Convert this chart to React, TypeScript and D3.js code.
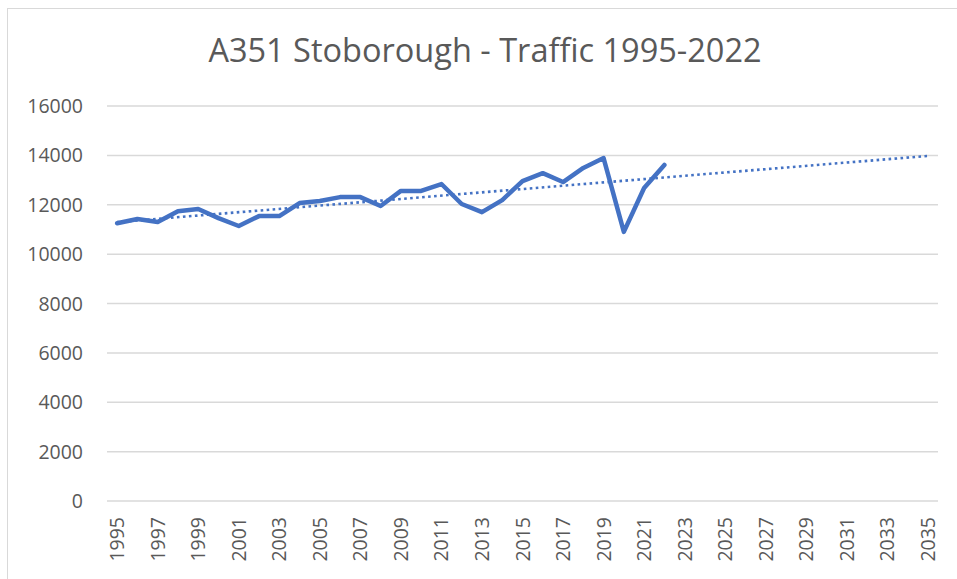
import React from "react";
import * as d3 from "d3";

const width = 957;
const height = 579;

// observed traffic counts
const years = [
  1995, 1996, 1997, 1998, 1999, 2000, 2001, 2002, 2003, 2004, 2005, 2006, 2007, 2008,
  2009, 2010, 2011, 2012, 2013, 2014, 2015, 2016, 2017, 2018, 2019, 2020, 2021, 2022,
];
const traffic = [
  11250, 11420, 11300, 11740, 11830, 11460, 11140, 11540, 11540, 12070, 12150, 12310, 12310, 11950,
  12560, 12560, 12840, 12030, 11700, 12190, 12960, 13280, 12920, 13490, 13890, 10900, 12680, 13610,
];

// category axis runs out to the forecast year
const axisYears = d3.range(1995, 2036);
const xTickLabels = d3.range(1995, 2036, 2);
const yTicks = [0, 2000, 4000, 6000, 8000, 10000, 12000, 14000, 16000];

const title = "A351 Stoborough - Traffic 1995-2022";
const font = "'Open Sans', 'Noto Sans', sans-serif";

export default function App() {
  const x = d3
    .scaleBand<number>()
    .domain(axisYears)
    .range([107, 938]);
  const cx = (yr: number) => (x(yr) as number) + x.bandwidth() / 2;

  const y = d3.scaleLinear().domain([0, 16000]).range([501, 106]);

  const points = years.map((yr, i) => [yr, traffic[i]] as [number, number]);

  const line = d3
    .line<[number, number]>()
    .x((d) => cx(d[0]))
    .y((d) => y(d[1]));

  // linear trendline (least squares), forecast to 2035
  const mx = d3.mean(years) as number;
  const my = d3.mean(traffic) as number;
  const slope =
    d3.sum(points, (d) => (d[0] - mx) * (d[1] - my)) /
    d3.sum(years, (v) => (v - mx) * (v - mx));
  const trend: [number, number][] = [
    [1995, my + slope * (1995 - mx)],
    [2035, my + slope * (2035 - mx)],
  ];

  return (
    <svg
      width={width}
      height={height}
      style={{ position: "absolute", left: 0, top: 0, background: "#fff" }}
    >
      <rect x={7.5} y={8.5} width={980} height={600} fill="#fff" stroke="#d9d9d9" />
      <text
        x={485}
        y={62}
        textAnchor="middle"
        fill="#595959"
        style={{ fontFamily: font, fontSize: "32.5px" }}
      >
        {title}
      </text>

      {yTicks.map((t) => (
        <g key={t}>
          <line x1={107} x2={938} y1={y(t)} y2={y(t)} stroke="#d9d9d9" strokeWidth={1.5} />
          <text
            x={83}
            y={y(t)}
            dy="0.36em"
            textAnchor="end"
            fill="#595959"
            style={{ fontFamily: font, fontSize: "19.5px" }}
          >
            {t}
          </text>
        </g>
      ))}

      {xTickLabels.map((yr) => (
        <text
          key={yr}
          transform={`translate(${cx(yr)},517) rotate(-90)`}
          dy="0.36em"
          textAnchor="end"
          fill="#595959"
          style={{ fontFamily: font, fontSize: "19.5px" }}
        >
          {yr}
        </text>
      ))}

      <path
        d={line(trend) as string}
        fill="none"
        stroke="#4472c4"
        strokeWidth={2.6}
        strokeDasharray="2.6 3.4"
      />
      <path
        d={line(points) as string}
        fill="none"
        stroke="#4472c4"
        strokeWidth={4.5}
        strokeLinejoin="round"
        strokeLinecap="round"
      />
    </svg>
  );
}
